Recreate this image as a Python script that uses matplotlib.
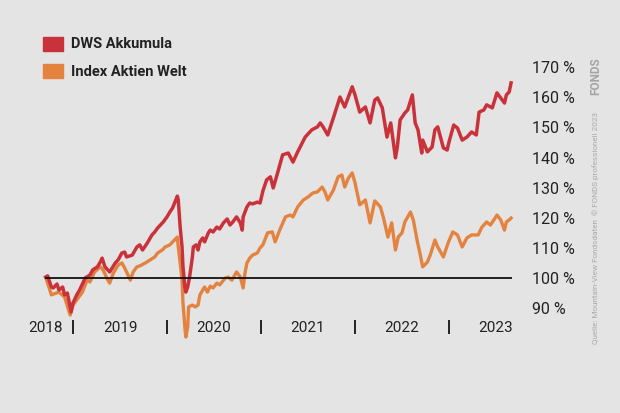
import numpy as np
import matplotlib.pyplot as plt

plt.rcParams['font.family'] = ['Roboto', 'DejaVu Sans']

# DWS Akkumula (decimal year, % of start value)
dws_t = [2018.71, 2018.73, 2018.77, 2018.79, 2018.83, 2018.85, 2018.89, 2018.91, 2018.94, 2018.98,
         2019.00, 2019.04, 2019.07, 2019.13, 2019.18, 2019.21, 2019.26, 2019.29, 2019.31, 2019.34,
         2019.39, 2019.45, 2019.48, 2019.52, 2019.55, 2019.57, 2019.63, 2019.68, 2019.71, 2019.74,
         2019.79, 2019.84, 2019.87, 2019.90, 2019.96, 2020.00, 2020.03, 2020.06, 2020.11, 2020.12,
         2020.14, 2020.16, 2020.17, 2020.19, 2020.20, 2020.22, 2020.24, 2020.27, 2020.28, 2020.31,
         2020.33, 2020.35, 2020.38, 2020.40, 2020.44, 2020.46, 2020.49, 2020.53, 2020.56, 2020.60,
         2020.64, 2020.67, 2020.70, 2020.74, 2020.78, 2020.80, 2020.81, 2020.85, 2020.88, 2020.91,
         2020.96, 2020.99, 2021.02, 2021.06, 2021.10, 2021.13, 2021.17, 2021.23, 2021.29, 2021.34,
         2021.39, 2021.47, 2021.54, 2021.60, 2021.63, 2021.66, 2021.71, 2021.77, 2021.84, 2021.89,
         2021.97, 2022.00, 2022.05, 2022.11, 2022.16, 2022.21, 2022.24, 2022.29, 2022.34, 2022.38,
         2022.43, 2022.45, 2022.48, 2022.53, 2022.56, 2022.61, 2022.64, 2022.67, 2022.71, 2022.72,
         2022.77, 2022.82, 2022.85, 2022.88, 2022.94, 2022.98, 2023.00, 2023.05, 2023.09, 2023.14,
         2023.19, 2023.24, 2023.29, 2023.32, 2023.37, 2023.40, 2023.46, 2023.51, 2023.55, 2023.59,
         2023.61, 2023.64, 2023.66]
dws_v = [100.3, 100.7, 97.0, 96.7, 98.0, 96.0, 97.0, 94.4, 95.0, 88.7,
         91.7, 94.4, 96.0, 100.0, 101.0, 102.7, 103.7, 105.3, 106.6, 103.7,
         102.0, 105.0, 106.0, 108.3, 108.6, 107.0, 107.6, 110.3, 111.0, 109.3,
         111.6, 114.3, 115.3, 116.6, 118.6, 120.3, 121.9, 123.3, 127.2, 125.9,
         116.9, 110.3, 103.7, 97.0, 95.3, 97.0, 100.3, 107.0, 110.3, 111.0,
         109.3, 112.0, 113.3, 112.0, 115.0, 115.9, 115.3, 116.9, 116.3, 118.3,
         119.6, 117.6, 118.6, 120.3, 118.3, 115.9, 120.3, 123.6, 124.9, 124.6,
         125.2, 124.9, 128.9, 132.6, 133.6, 129.9, 134.2, 140.9, 141.5, 138.5,
         141.9, 146.8, 149.2, 150.2, 151.5, 150.2, 147.5, 153.2, 160.1, 156.8,
         163.5, 160.8, 155.1, 156.8, 151.5, 159.1, 159.8, 156.5, 146.8, 151.5,
         139.9, 143.5, 152.5, 154.8, 155.8, 160.8, 151.5, 149.2, 141.5, 145.8,
         141.9, 143.5, 149.2, 150.2, 143.2, 142.5, 145.2, 150.8, 149.8, 145.8,
         146.8, 148.5, 147.5, 155.1, 155.8, 157.5, 156.5, 161.5, 159.8, 158.1,
         160.8, 161.8, 164.8]

# Index Aktien Welt
idx_t = [2018.71, 2018.77, 2018.85, 2018.91, 2018.97, 2019.00, 2019.10, 2019.15, 2019.18, 2019.23,
         2019.29, 2019.32, 2019.36, 2019.39, 2019.43, 2019.48, 2019.52, 2019.55, 2019.61, 2019.64,
         2019.68, 2019.71, 2019.77, 2019.82, 2019.87, 2019.90, 2019.95, 2019.98, 2020.03, 2020.06,
         2020.11, 2020.12, 2020.14, 2020.16, 2020.17, 2020.19, 2020.20, 2020.22, 2020.23, 2020.27,
         2020.30, 2020.33, 2020.35, 2020.38, 2020.40, 2020.43, 2020.46, 2020.49, 2020.53, 2020.56,
         2020.62, 2020.65, 2020.69, 2020.74, 2020.78, 2020.81, 2020.83, 2020.85, 2020.88, 2020.91,
         2020.96, 2020.99, 2021.02, 2021.04, 2021.07, 2021.12, 2021.15, 2021.20, 2021.26, 2021.31,
         2021.34, 2021.39, 2021.45, 2021.50, 2021.55, 2021.60, 2021.65, 2021.68, 2021.71, 2021.77,
         2021.82, 2021.86, 2021.89, 2021.93, 2021.97, 2022.00, 2022.05, 2022.11, 2022.16, 2022.21,
         2022.27, 2022.30, 2022.35, 2022.39, 2022.43, 2022.46, 2022.50, 2022.53, 2022.59, 2022.62,
         2022.66, 2022.69, 2022.72, 2022.77, 2022.80, 2022.85, 2022.88, 2022.94, 2022.99, 2023.04,
         2023.09, 2023.14, 2023.19, 2023.24, 2023.31, 2023.35, 2023.40, 2023.44, 2023.49, 2023.51,
         2023.55, 2023.59, 2023.61, 2023.64, 2023.66]
idx_v = [100.3, 94.4, 95.3, 93.7, 87.7, 91.0, 95.3, 99.3, 98.7, 102.0,
         103.7, 102.7, 100.0, 98.3, 101.7, 104.3, 105.0, 103.3, 99.3, 102.0,
         103.7, 104.0, 105.0, 106.0, 107.0, 108.3, 109.3, 110.3, 111.0, 112.0,
         113.6, 110.3, 105.0, 99.3, 91.7, 83.7, 80.4, 83.7, 90.4, 91.0,
         90.4, 91.0, 94.4, 96.0, 97.0, 95.3, 97.3, 96.7, 98.3, 97.7,
         100.0, 100.3, 99.3, 102.0, 100.3, 96.7, 101.7, 105.0, 106.6, 107.6,
         108.3, 110.0, 111.0, 112.6, 115.0, 115.3, 112.0, 116.0, 120.3, 120.9,
         120.3, 123.6, 125.9, 126.9, 128.2, 128.6, 130.2, 128.6, 125.9, 129.2,
         133.6, 134.2, 130.2, 133.2, 134.9, 131.6, 124.3, 125.9, 118.3, 125.6,
         123.6, 120.3, 113.6, 118.3, 109.3, 113.6, 115.0, 118.6, 121.9, 119.3,
         112.6, 108.3, 103.7, 105.3, 107.6, 112.6, 110.3, 107.0, 111.6, 115.3,
         114.3, 110.3, 113.3, 114.3, 114.3, 116.9, 118.6, 117.6, 119.9, 120.9,
         119.3, 115.9, 118.6, 119.3, 119.9]

year_labels = ['2018', '2019', '2020', '2021', '2022', '2023']
year_label_pos = [2018.71, 2019.5, 2020.5, 2021.5, 2022.5, 2023.5]
year_bounds = [2019, 2020, 2021, 2022, 2023]
y_ticks = [90, 100, 110, 120, 130, 140, 150, 160, 170]

red = '#c9323a'
orange = '#e3833f'
bg = '#e4e4e4'
ink = '#222222'

fig = plt.figure(figsize=(6.2, 4.13), dpi=100, facecolor=bg)
ax = fig.add_axes([40/620, 1 - 320/413, 480/620, 260/413], facecolor=bg)

ax.plot(idx_t, idx_v, color=orange, lw=2.4, solid_joinstyle='round', zorder=3, clip_on=False)
ax.plot(dws_t, dws_v, color=red, lw=2.5, solid_joinstyle='round', zorder=4, clip_on=False)
ax.hlines(100, dws_t[0] - 0.01, dws_t[-1] + 0.01, color='#111111', lw=1.3, zorder=5)

ax.set_xlim(2018.649, 2023.755)
ax.set_ylim(86.05, 172.4)

for s in ax.spines.values():
    s.set_visible(False)

ax.yaxis.tick_right()
ax.set_yticks(y_ticks)
ax.set_yticklabels([f'{v} %' for v in y_ticks])
ax.tick_params(axis='y', length=0, pad=9, labelsize=11.5, labelcolor=ink)
for lab in ax.get_yticklabels():
    lab.set_horizontalalignment('left')

ax.set_xticks(year_label_pos)
ax.set_xticklabels(year_labels)
ax.tick_params(axis='x', which='major', length=0, pad=1, labelsize=11, labelcolor=ink)
ax.set_xticks(year_bounds, minor=True)
ax.tick_params(axis='x', which='minor', length=10, width=1.4, color=ink, direction='out')

# legend
fig.patches.append(plt.Rectangle((43/620, 1 - 51/413), 20/620, 14/413,
                                 transform=fig.transFigure, color=red))
fig.patches.append(plt.Rectangle((43/620, 1 - 78/413), 20/620, 14/413,
                                 transform=fig.transFigure, color=orange))
fig.text(71/620, 1 - 44/413, 'DWS Akkumula', fontsize=10.5, fontweight='bold',
         color=ink, va='center')
fig.text(71/620, 1 - 72/413, 'Index Aktien Welt', fontsize=10.5, fontweight='bold',
         color=ink, va='center')

# source note
fig.text(596/620, 1 - 344/413, 'Quelle: Mountain-View Fondsdaten  \u00a9 FONDS professionell 2023',
         rotation=90, fontsize=5.9, color='#aaaaaa', ha='center', va='bottom')
fig.text(596/620, 1 - 57/413, 'FONDS', rotation=90, fontsize=8.5, fontweight='bold',
         color='#a5a5a5', ha='center', va='top')

fig.savefig('out.png', dpi=100, facecolor=bg)
